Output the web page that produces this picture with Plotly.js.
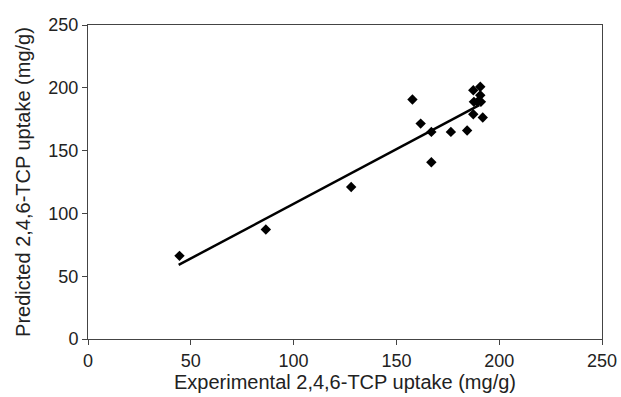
<!DOCTYPE html>
<html><head><meta charset="utf-8">
<script src="https://cdn.plot.ly/plotly-3.0.1.min.js"></script>
<style>html,body{margin:0;padding:0;background:#fff}#c{width:621px;height:397px}</style>
</head><body><div id="c"></div>
<script>
const expX = [44.5, 86.5, 128.0, 157.8, 161.8, 167.0, 167.0, 176.5, 184.4, 187.4, 190.8, 190.8, 187.7, 189.4, 191.1, 187.4, 192.0];
const predY = [66.2, 87.2, 121.0, 190.7, 171.5, 164.9, 140.7, 164.9, 166.0, 198.1, 200.8, 194.1, 188.8, 188.8, 188.8, 179.0, 176.3];
const fitX = [44.1, 190.3];
const fitY = [59.0, 186.2];
const ticks = [0, 50, 100, 150, 200, 250];

const font = {family: 'Liberation Sans, Arial, sans-serif', size: 18, color: '#222'};
Plotly.newPlot('c', [
  {x: fitX, y: fitY, mode: 'lines', line: {color: '#000', width: 2.5}, hoverinfo: 'skip'},
  {x: expX, y: predY, mode: 'markers', marker: {symbol: 'diamond', size: 8, color: '#000'}}
], {
  width: 621, height: 397,
  margin: {l: 88, r: 19, t: 25, b: 58},
  showlegend: false,
  paper_bgcolor: '#fff', plot_bgcolor: '#fff',
  font: font,
  xaxis: {range: [0, 250], tickvals: ticks, ticks: 'outside', ticklen: 5, tickcolor: '#444',
    showline: true, linecolor: '#444', linewidth: 1, mirror: true, showgrid: false, zeroline: false,
    title: {text: 'Experimental 2,4,6-TCP uptake (mg/g)', font: {size: 20}, standoff: 4}},
  yaxis: {range: [0, 250], tickvals: ticks, ticks: 'outside', ticklen: 5, tickcolor: '#444',
    showline: true, linecolor: '#444', linewidth: 1, mirror: true, showgrid: false, zeroline: false,
    title: {text: 'Predicted 2,4,6-TCP uptake (mg/g)', font: {size: 20}, standoff: 12}}
}, {displayModeBar: false, staticPlot: true});
</script></body></html>
